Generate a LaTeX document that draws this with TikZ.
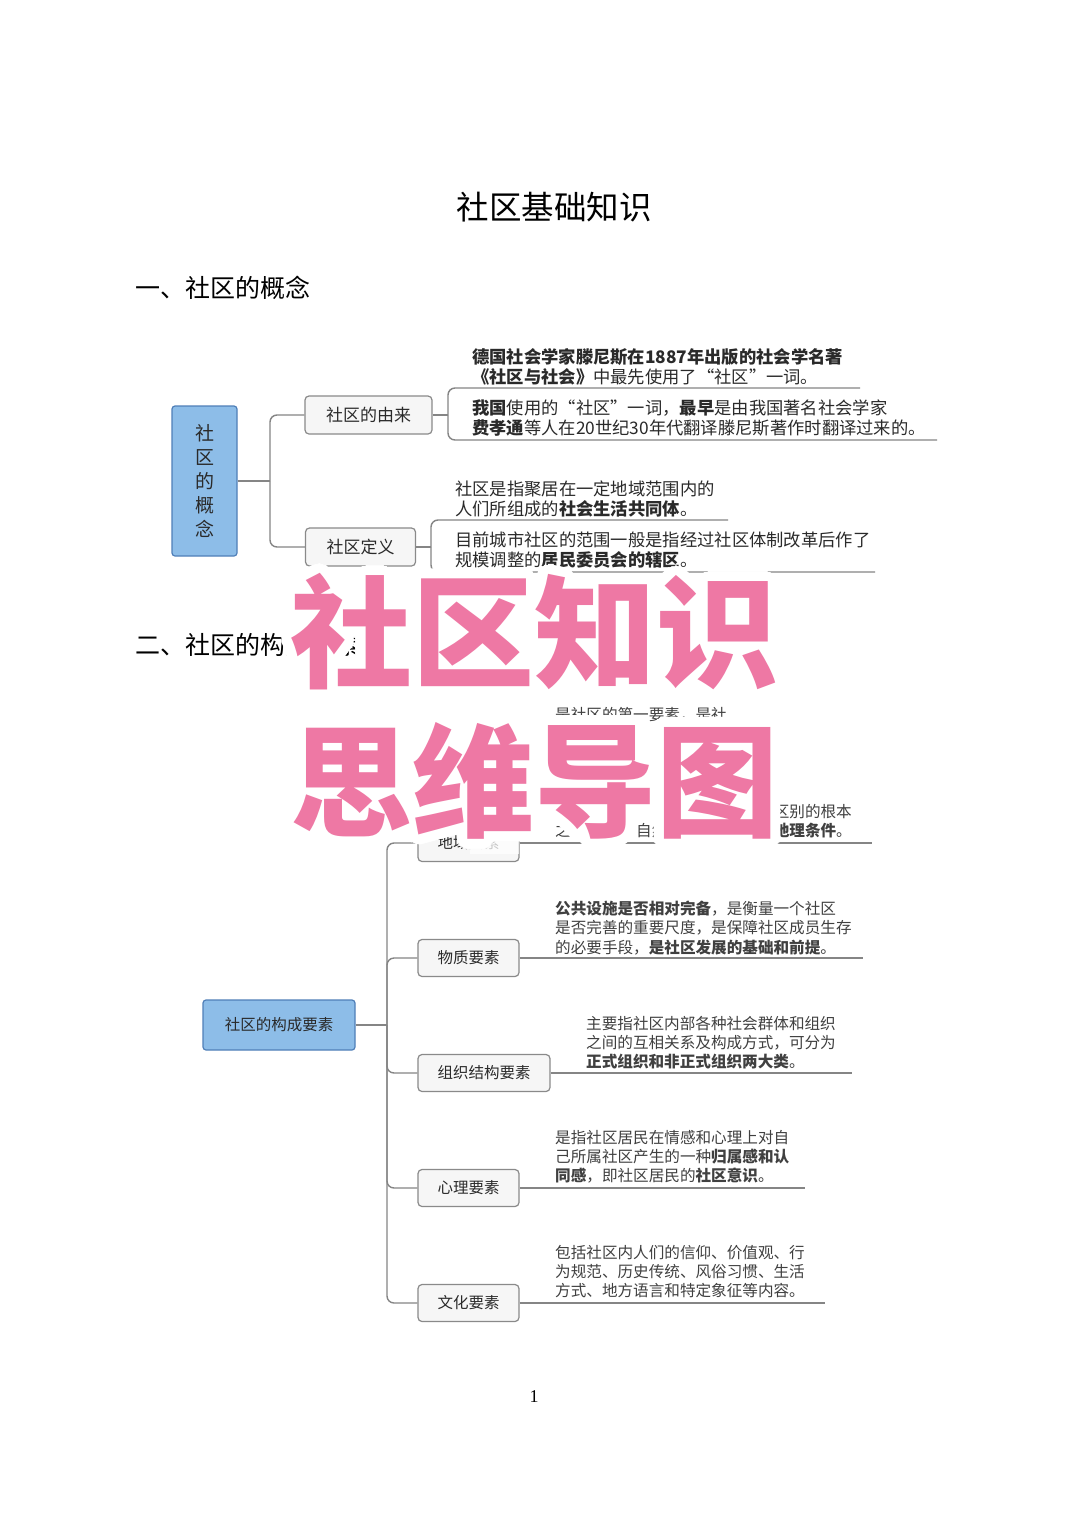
\documentclass[tikz,border=0pt]{standalone}
\usepackage{fontspec}
\IfFileExists{contour.sty}{\usepackage[copies]{contour}\contourlength{10pt}\contournumber{48}\def\havecontour{1}}{}
\setmainfont{Noto Sans CJK SC}
\newfontfamily\numfont{Liberation Serif}
\IfFontExistsTF{Noto Sans CJK SC Black}{\newfontfamily\heavyfont{Noto Sans CJK SC Black}}{\newfontfamily\heavyfont{Noto Sans CJK SC}[FakeBold=3]}
\definecolor{linegray}{HTML}{858585}
\definecolor{boxborder}{HTML}{8A8A8A}
\definecolor{boxfill}{HTML}{F6F6F6}
\definecolor{bluefill}{HTML}{8DBDE8}
\definecolor{blueborder}{HTML}{4F7FB8}
\definecolor{textdark}{HTML}{2A2A2A}
\definecolor{textmid}{HTML}{404040}
\definecolor{pinkbig}{HTML}{EE78A4}
\tikzset{
  conn/.style={draw=linegray, line width=1.4pt, rounded corners=7pt},
  bluebox/.style={draw=blueborder, fill=bluefill, rounded corners=3pt, line width=1.2pt, text=textdark},
  graybox/.style={draw=boxborder, fill=boxfill, rounded corners=4pt, line width=1.2pt, text=textdark},
  boxA/.style={graybox, minimum height=38pt, inner xsep=21pt, font=\fontsize{17}{20}\selectfont},
  boxB/.style={graybox, minimum height=37pt, inner xsep=19.5pt, font=\fontsize{15.5}{19}\selectfont},
  leafA/.style={anchor=north west, align=left, inner sep=0pt, font=\fontsize{17.3}{20}\selectfont, text=textdark},
  leafB/.style={anchor=north west, align=left, inner sep=0pt, font=\fontsize{15.6}{19.2}\selectfont, text=textmid},
  frag/.style={inner sep=0pt, font=\fontsize{15.6}{19.2}\selectfont, text=textmid},
  heading/.style={anchor=west, inner sep=0pt, font=\fontsize{25}{28}\selectfont, text=black},
  halo/.style={text=white, inner sep=0pt, font=\heavyfont\fontsize{122}{122}\selectfont},
  bigpink/.style={text=pinkbig, inner sep=0pt, font=\heavyfont\fontsize{122}{122}\selectfont}
}
\begin{document}
\begin{tikzpicture}[x=1pt,y=-1pt]
\fill[white] (0,0) rectangle (1080,1518);
\useasboundingbox (0,0) rectangle (1080,1518);

% titles
\node[inner sep=0pt, font=\fontsize{32.5}{36}\selectfont] (title) at (554,207) {社区基础知识};
\node[heading] (h1) at (135,288) {一、社区的概念};
\node[heading] (h2) at (135,645) {二、社区的构成要素};

% ---------- section 1 ----------
\node[bluebox, minimum width=65pt, minimum height=150pt, align=center, inner sep=0pt,
      font=\fontsize{19}{24}\selectfont] (cgn) at (204.5,481) {社\\区\\的\\概\\念};
\node[boxA] (yl) at (368.5,415) {社区的由来};
\node[boxA] (df) at (360.5,547) {社区定义};

\coordinate (j1) at (270,481);
\draw[conn] (cgn.east) -- (j1);
\draw[conn] (j1) |- (yl.west);
\draw[conn] (j1) |- (df.west);

\coordinate (b1) at (448,415);
\coordinate (e1) at (860,388);
\coordinate (e2) at (937,440);
\draw[conn] (yl.east) -- (b1);
\draw[conn] (b1) |- (e1);
\draw[conn] (b1) |- (e2);

\coordinate (b2) at (431,547);
\coordinate (e3) at (728,520);
\coordinate (e4) at (875,572);
\draw[conn] (df.east) -- (b2);
\draw[conn] (b2) |- (e3);
\draw[conn] (b2) |- (e4);

\node[leafA] (t1) at (472,348) {\textbf{德国社会学家滕尼斯在1887年出版的社会学名著}\\\textbf{《社区与社会》}中最先使用了“社区”一词。};
\node[leafA] (t2) at (472,400) {\textbf{我国}使用的“社区”一词，\textbf{最早}是由我国著名社会学家\\\textbf{费孝通}等人在20世纪30年代翻译滕尼斯著作时翻译过来的。};
\node[leafA] (t3) at (455,481) {社区是指聚居在一定地域范围内的\\人们所组成的\textbf{社会生活共同体}。};
\node[leafA] (t4) at (455,532) {目前城市社区的范围一般是指经过社区体制改革后作了\\规模调整的\textbf{居民委员会的辖区}。};

% ---------- section 2 ----------
\node[bluebox, minimum width=152pt, minimum height=50pt, inner sep=0pt,
      font=\fontsize{15.5}{19}\selectfont] (gys) at (279,1025) {社区的构成要素};
\node[boxB] (dy) at (468.5,843) {地域要素};
\node[boxB] (wz) at (468.5,958) {物质要素};
\node[boxB] (zz) at (484,1073) {组织结构要素};
\node[boxB] (xl) at (468.5,1188) {心理要素};
\node[boxB] (wh) at (468.5,1303) {文化要素};

\coordinate (j2) at (387,1025);
\draw[conn] (gys.east) -- (j2);
\foreach \n in {dy,wz,zz,xl,wh} {\draw[conn] (j2) |- (\n.west);}

\coordinate (f1) at (872,843);
\coordinate (f2) at (863,958);
\coordinate (f3) at (852,1073);
\coordinate (f4) at (805,1188);
\coordinate (f5) at (825,1303);
\draw[conn] (dy.east) -- (f1);
\draw[conn] (wz.east) -- (f2);
\draw[conn] (zz.east) -- (f3);
\draw[conn] (xl.east) -- (f4);
\draw[conn] (wh.east) -- (f5);

\node[frag, anchor=north west] (s1a) at (555,707) {是社区的第一要素，是社};
\node[frag, anchor=north east] (s1b) at (852,804) {区别的根本};
\node[frag, anchor=north west] (s1c) at (555,823) {之};
\node[frag, anchor=north west] (s1d) at (636,823) {自然};
\node[frag, anchor=north east] (s1e) at (852,823) {\textbf{地理条件}。};

\node[leafB] (s2) at (555,901) {\textbf{公共设施是否相对完备}，是衡量一个社区\\是否完善的重要尺度，是保障社区成员生存\\的必要手段，\textbf{是社区发展的基础和前提}。};
\node[leafB] (s3) at (586,1016) {主要指社区内部各种社会群体和组织\\之间的互相关系及构成方式，可分为\\\textbf{正式组织和非正式组织两大类}。};
\node[leafB] (s4) at (555,1130) {是指社区居民在情感和心理上对自\\己所属社区产生的一种\textbf{归属感和认}\\\textbf{同感}，即社区居民的\textbf{社区意识}。};
\node[leafB] (s5) at (555,1245) {包括社区内人们的信仰、价值观、行\\为规范、历史传统、风俗习惯、生活\\方式、地方语言和特定象征等内容。};

% page number
\node[inner sep=0pt, font=\numfont\fontsize{18}{20}\selectfont] (pg) at (534,1397) {1};

% ---------- overlay ----------
\fill[white, opacity=0.75] (470,828) rectangle (519,854);
\ifdefined\havecontour
  \node[bigpink] (big1) at (534,637) {\contour{white}{社区知识}};
  \node[bigpink] (big2) at (534,786) {\contour{white}{思维导图}};
\else
  \foreach \a in {0,15,...,345} {
    \node[halo, shift={(\a:10pt)}] (ha\a) at (534,637) {社区知识};
    \node[halo, shift={(\a:10pt)}] (hb\a) at (534,786) {思维导图};
  }
  \node[bigpink] (big1) at (534,637) {社区知识};
  \node[bigpink] (big2) at (534,786) {思维导图};
\fi
\end{tikzpicture}
\end{document}
